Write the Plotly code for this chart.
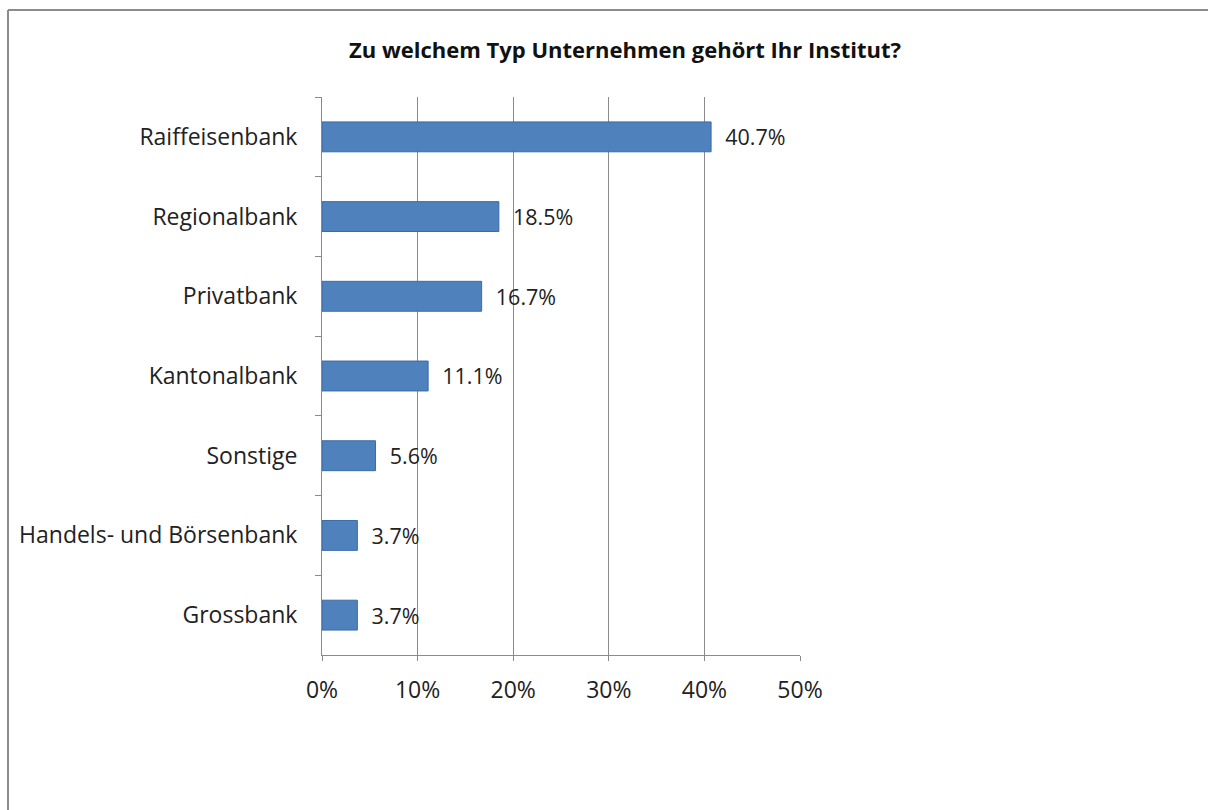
import plotly.graph_objects as go

categories = ["Raiffeisenbank", "Regionalbank", "Privatbank", "Kantonalbank",
              "Sonstige", "Handels- und Börsenbank", "Grossbank"]
values = [40.7, 18.5, 16.7, 11.1, 5.6, 3.7, 3.7]
labels = [f"\u00a0\u00a0{v:.1f}%" for v in values]
xticks = [0, 10, 20, 30, 40, 50]
xticklabels = [f"{t}%" for t in xticks]
title = "Zu welchem Typ Unternehmen gehört Ihr Institut?"

W, H = 1208, 810
L, R, T, B = 322, 800, 97, 655

font = "Open Sans"
fs = 23

fig = go.Figure(go.Bar(
    x=values, y=categories, orientation="h",
    text=labels, textposition="outside", cliponaxis=False,
    textfont=dict(family=font, size=fs, color="#222222"),
    marker=dict(color="#4F81BD", line=dict(color="#3A6BA8", width=1)),
    hoverinfo="skip",
))

def px_x(p):
    return (p - L) / (R - L)

def px_y(p):
    return (B - p) / (B - T)

border = dict(color="#8c8c8c", width=2)

fig.update_layout(
    width=W, height=H,
    margin=dict(l=L, r=W - R, t=T, b=H - B, pad=0),
    paper_bgcolor="white", plot_bgcolor="white",
    showlegend=False, bargap=0.625,
    title=dict(text=f"<b>{title}</b>", x=px_x(625), xref="paper", xanchor="center",
               y=1 - 50 / H, yanchor="middle",
               font=dict(family=font, size=22, color="#111111")),
    xaxis=dict(range=[0, 50], tickvals=xticks, ticktext=xticklabels,
               showgrid=True, gridcolor="#8a8a8a", gridwidth=1,
               showline=True, linecolor="#8a8a8a", linewidth=1,
               ticks="outside", ticklen=5, tickcolor="#8a8a8a",
               tickfont=dict(family=font, size=fs, color="#222222"),
               ticklabelstandoff=9, zeroline=False, fixedrange=True),
    yaxis=dict(categoryorder="array", categoryarray=categories, autorange="reversed",
               showline=True, linecolor="#8a8a8a", linewidth=1,
               ticks="outside", ticklen=6, tickcolor="#8a8a8a", tickson="boundaries",
               tickfont=dict(family=font, size=fs, color="#222222"),
               ticklabelstandoff=19, showgrid=False, fixedrange=True),
    shapes=[
        dict(type="line", xref="paper", yref="paper",
             x0=px_x(8), x1=px_x(1208), y0=px_y(10), y1=px_y(10), line=border),
        dict(type="line", xref="paper", yref="paper",
             x0=px_x(8), x1=px_x(8), y0=px_y(10), y1=px_y(810), line=border),
    ],
)

fig.write_html("out.html")
